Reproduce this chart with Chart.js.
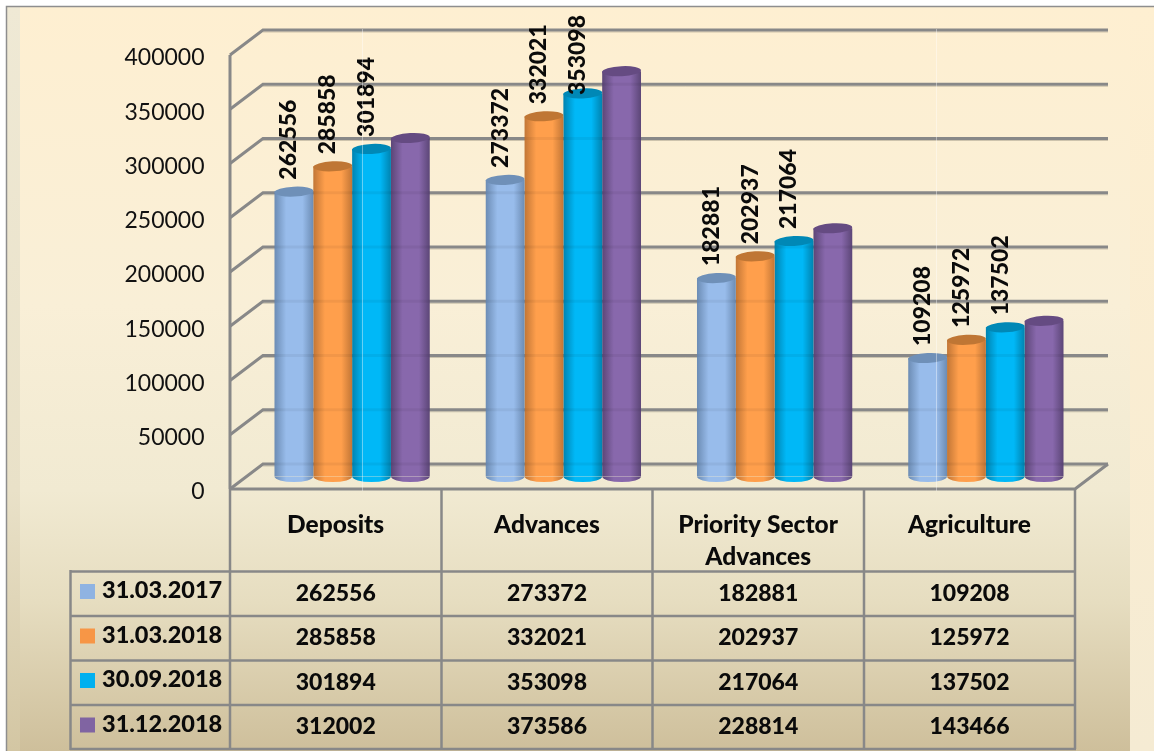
<!DOCTYPE html>
<html>
<head>
<meta charset="utf-8">
<title>Deposits and Advances</title>
<script src="https://cdn.jsdelivr.net/npm/chart.js@4"></script>
<style>
  html,body{margin:0;padding:0;background:#fff;overflow:hidden;}
  canvas{display:block;}
</style>
</head>
<body>
<canvas id="bank-chart" width="1154" height="751"></canvas>
<script>
// ===================== DATA =====================
const categories = ['Deposits','Advances',['Priority Sector','Advances'],'Agriculture'];
const seriesNames = ['31.03.2017','31.03.2018','30.09.2018','31.12.2018'];
const mar2017 = [262556,273372,182881,109208];
const mar2018 = [285858,332021,202937,125972];
const sep2018 = [301894,353098,217064,137502];
const dec2018 = [312002,373586,228814,143466];
const allSeries = [mar2017,mar2018,sep2018,dec2018];
const tickStep = 50000;
const tickMax = 400000;

// ===================== STYLE =====================
const KEY_COLORS = ['#8FB3E2','#F79646','#00B0F0','#8064A2'];
const MID_COLORS = ['#98BCEB','#FF9F4C','#00B8F7','#8868AC'];
const EDGE_COLORS = ['#6C8CB4','#C27636','#0083B0','#5C4677'];
const CAP_COLORS = ['#6F90B8','#BF7634','#0088B6','#654B82'];
const GRID = '#888888';
const FONT = 'Lato, Carlito, sans-serif';
const DX = 16.5, DY = 12.5;   // half of the 3D depth
const rowLines = [571.5,616,660.5,705,749];
const colLines = [230,441.5,652.5,864,1075];

function line(ctx,pts,w,color){
  ctx.beginPath();
  ctx.moveTo(pts[0][0],pts[0][1]);
  pts.slice(1).forEach(p=>ctx.lineTo(p[0],p[1]));
  ctx.lineWidth=w; ctx.strokeStyle=color; ctx.stroke();
}

function paintBackground(ctx){
  ctx.fillStyle='#fff'; ctx.fillRect(0,0,1154,751);
  const main=ctx.createLinearGradient(0,6,0,751);
  main.addColorStop(0,'#FEEFD1'); main.addColorStop(.4,'#F9EFD7');
  main.addColorStop(.65,'#F1EAD2'); main.addColorStop(.8,'#E6DDC0');
  main.addColorStop(1,'#CEBF9B');
  ctx.fillStyle=main; ctx.fillRect(20,7,1110,744);
  const left=ctx.createLinearGradient(0,6,0,751);
  left.addColorStop(0,'#EFE9D5'); left.addColorStop(.65,'#E9E1C8'); left.addColorStop(1,'#D3C6A3');
  ctx.fillStyle=left; ctx.fillRect(7,7,13,744);
  const right=ctx.createLinearGradient(0,6,0,751);
  right.addColorStop(0,'#FEEFD1'); right.addColorStop(1,'#F5EBD3');
  ctx.fillStyle=right; ctx.fillRect(1130,7,24,744);
  line(ctx,[[6.5,751],[6.5,6.5],[1154,6.5]],1.5,'#8E8E8E');
}

function drawWalls(chart){
  const ctx=chart.ctx, y=chart.scales.y;
  const x0=chart.chartArea.left-DX, x1=chart.chartArea.left+DX, x2=chart.chartArea.right+DX;
  y.ticks.forEach(t=>{
    const py=y.getPixelForValue(t.value);
    line(ctx,[[x1,py-DY+2],[x2,py-DY+2]],1,'rgba(120,115,100,.35)');
    line(ctx,[[x0,py+DY],[x1,py-DY],[x2,py-DY]],3,GRID);
  });
  // front axis, floor edge
  const yTop=y.getPixelForValue(tickMax)+DY, yBase=y.getPixelForValue(0)+DY;
  line(ctx,[[x0,yTop],[x0,yBase]],3,GRID);
  line(ctx,[[x0,yBase],[colLines[4],yBase],[x2,yBase-2*DY]],3,GRID);
}

function drawTable(ctx){
  colLines.forEach(x=>line(ctx,[[x,489],[x,749]],2.5,GRID));
  rowLines.forEach(y=>line(ctx,[[70,y],[1076,y]],2.5,GRID));
  line(ctx,[[70.5,570],[70.5,750]],2.5,GRID);

  ctx.textBaseline='middle';
  ctx.fillStyle='#0a0a0a';
  seriesNames.forEach((name,r)=>{
    const top=rowLines[r];
    ctx.fillStyle=KEY_COLORS[r];
    ctx.fillRect(80,top+12.5,15,15);
    ctx.fillStyle='#0a0a0a';
    ctx.textAlign='left';
    ctx.font='900 23.5px '+FONT;
    ctx.fillText(name,102,top+19);
    ctx.textAlign='center';
    ctx.font='900 23px '+FONT;
    allSeries[r].forEach((v,c)=>{
      ctx.fillText(String(v),(colLines[c]+colLines[c+1])/2,top+22);
    });
  });
}

const cylinderPlugin = {
  id:'cylinder',
  beforeDraw(chart){ paintBackground(chart.ctx); },
  afterDatasetsUpdate(chart){
    // side shading of each bar, built from where the library put it
    chart.data.datasets.forEach((ds,d)=>{
      chart.getDatasetMeta(d).data.forEach(el=>{
        const g=chart.ctx.createLinearGradient(el.x-el.width/2,0,el.x+el.width/2,0);
        g.addColorStop(0,EDGE_COLORS[d]); g.addColorStop(.3,MID_COLORS[d]);
        g.addColorStop(.72,MID_COLORS[d]); g.addColorStop(1,EDGE_COLORS[d]);
        el.options=Object.assign({},el.options,{backgroundColor:g});
      });
    });
  },
  beforeDatasetsDraw(chart){
    drawWalls(chart);
    drawTable(chart.ctx);
  },
  afterDatasetsDraw(chart){
    const ctx=chart.ctx, y=chart.scales.y;
    chart.data.datasets.forEach((ds,d)=>{
      chart.getDatasetMeta(d).data.forEach(el=>{
        const rx=el.width/2, ry=5;
        // rounded foot
        ctx.beginPath();
        ctx.ellipse(el.x,el.base,rx,ry+.5,0,0,Math.PI);
        ctx.fillStyle=el.options.backgroundColor; ctx.fill();
        // gridline ghost through the glassy bars
        ctx.fillStyle='rgba(0,0,0,.05)';
        y.ticks.forEach(t=>{
          const gy=y.getPixelForValue(t.value)-DY;
          if(gy>el.y) ctx.fillRect(el.x-rx,gy-1.5,el.width,3);
        });
        // top cap, slightly tilted like the source
        ctx.beginPath();
        ctx.ellipse(el.x,el.y,rx,ry,-.05,0,Math.PI*2);
        ctx.fillStyle=CAP_COLORS[d]; ctx.fill();
      });
    });
    // value labels, the last series has none in the original
    ctx.font='900 23px '+FONT;
    ctx.fillStyle='#0a0a0a';
    ctx.textAlign='left';
    ctx.textBaseline='middle';
    [0,1,2].forEach(d=>{
      chart.getDatasetMeta(d).data.forEach((el,i)=>{
        const txt=String(allSeries[d][i]);
        // a label that would leave the frame gets pushed back down over its bar
        const start=Math.max(el.y-12,15+ctx.measureText(txt).width);
        ctx.save();
        ctx.translate(el.x-5,start);
        ctx.rotate(-Math.PI/2);
        ctx.fillText(txt,0,0);
        ctx.restore();
      });
    });
    // faint scan seams in the source picture
    [362,936].forEach(x=>line(ctx,[[x+.5,29],[x+.5,491]],1,'rgba(255,255,255,.4)'));
  }
};

new Chart(document.getElementById('bank-chart').getContext('2d'),{
  type:'bar',
  data:{
    labels:categories,
    datasets:allSeries.map((vals,i)=>({
      label:seriesNames[i],
      data:vals,
      backgroundColor:KEY_COLORS[i],
      borderWidth:0,
      categoryPercentage:.735,
      barPercentage:1
    }))
  },
  options:{
    responsive:false,
    animation:false,
    layout:{padding:{left:0,top:42.5,right:62.5,bottom:0}},
    plugins:{legend:{display:false},title:{display:false},tooltip:{enabled:false}},
    scales:{
      x:{
        grid:{display:false},
        border:{display:false},
        afterFit:s=>{ s.height=274.5; s.paddingLeft=0; s.paddingRight=0; },
        ticks:{color:'#0a0a0a',font:{family:FONT,size:24.5,weight:'900',lineHeight:1.32},
               padding:24,labelOffset:-DX,maxRotation:0,minRotation:0,autoSkip:false}
      },
      y:{
        min:0,max:tickMax,
        grid:{display:false},
        border:{display:false},
        afterFit:s=>{ s.width=246.5; s.paddingTop=0; s.paddingBottom=0; },
        ticks:{stepSize:tickStep,color:'#111',font:{family:FONT,size:23},padding:34,labelOffset:DY+3,
               callback:v=>String(v)}
      }
    }
  },
  plugins:[cylinderPlugin]
});
</script>
</body>
</html>
